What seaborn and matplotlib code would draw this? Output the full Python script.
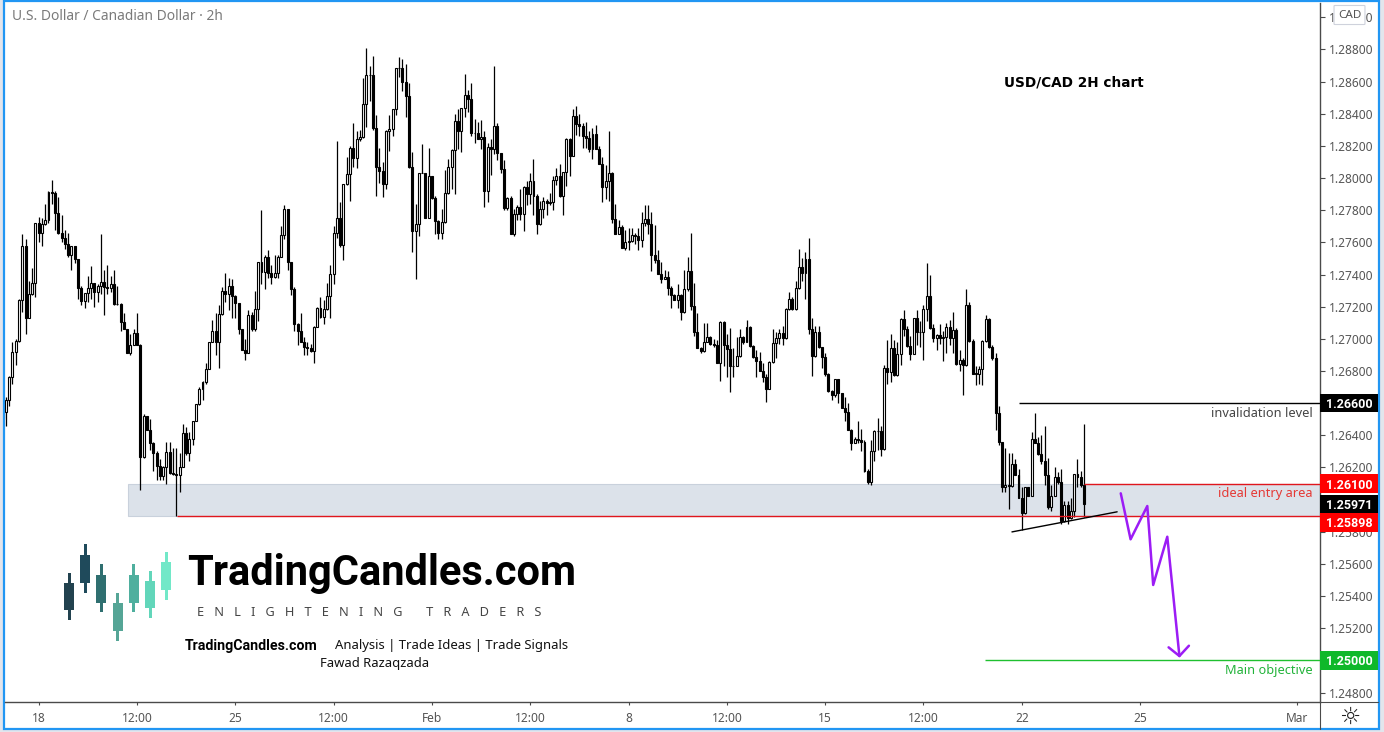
import numpy as np
import pandas as pd
import matplotlib
matplotlib.use("Agg")
import matplotlib.pyplot as plt
from matplotlib.patches import Rectangle, FancyBboxPatch
from matplotlib.lines import Line2D
import seaborn as sns

first_open = 1.26505

closes = [
    1.26542, 1.26619, 1.26760, 1.26916, 1.26988, 1.27241, 1.27575, 1.27131, 1.27276, 1.27345,
    1.27718, 1.27656, 1.27712, 1.27739, 1.27913, 1.27909, 1.27780, 1.27656, 1.27625, 1.27588,
    1.27523, 1.27575, 1.27494, 1.27314, 1.27237, 1.27283, 1.27314, 1.27345, 1.27289, 1.27330,
    1.27355, 1.27320, 1.27314, 1.27339, 1.27214, 1.27214, 1.27106, 1.27061, 1.26913, 1.26961,
    1.27034, 1.26961, 1.26262, 1.26519, 1.26432, 1.26353, 1.26287, 1.26210, 1.26146, 1.26204,
    1.26297, 1.26163, 1.26159, 1.26156, 1.26204, 1.26416, 1.26287, 1.26374, 1.26490, 1.26592,
    1.26685, 1.26729, 1.26814, 1.26978, 1.27046, 1.26978, 1.27152, 1.27295, 1.27281,
    1.27330, 1.27268, 1.27221, 1.27059, 1.26930, 1.26914, 1.27146, 1.27059, 1.27183, 1.27476,
    1.27413, 1.27511, 1.27407, 1.27382, 1.27411, 1.27507, 1.27644, 1.27805, 1.27480, 1.27308,
    1.27090, 1.27050, 1.26982, 1.26951, 1.26941, 1.26926, 1.27075, 1.27189, 1.27133, 1.27183,
    1.27268, 1.27401, 1.27656, 1.27749, 1.27581, 1.27961, 1.28023, 1.28185, 1.28123, 1.28241,
    1.28253, 1.28459, 1.28639, 1.28641, 1.28314, 1.28067, 1.28042, 1.27961, 1.28295, 1.28303,
    1.28428, 1.28683, 1.28687, 1.28596, 1.28511, 1.28067, 1.27673, 1.27712, 1.28029, 1.28034,
    1.27749, 1.28013, 1.27878, 1.27735, 1.27656, 1.27725, 1.27909, 1.28067,
    1.28175, 1.28353, 1.28291, 1.28434, 1.28515, 1.28494, 1.28283, 1.28279, 1.28246, 1.28254,
    1.27922, 1.28192, 1.28183, 1.28324, 1.28154, 1.28055, 1.27812, 1.27874, 1.27652, 1.27775,
    1.27818, 1.27775, 1.27943, 1.27903, 1.27980, 1.27889, 1.27717, 1.27806, 1.27856, 1.27847,
    1.27849, 1.27986, 1.28011, 1.27889, 1.28036, 1.28241, 1.28140, 1.28384, 1.28339, 1.28326,
    1.28264, 1.28252, 1.28183, 1.28273, 1.28183, 1.28090, 1.27947, 1.27980, 1.28030, 1.27748,
    1.27654, 1.27694, 1.27567, 1.27601, 1.27607, 1.27644, 1.27638, 1.27617, 1.27719, 1.27744,
    1.27715, 1.27524, 1.27493, 1.27406, 1.27374, 1.27387, 1.27318,
    1.27274, 1.27241, 1.27274, 1.27169, 1.27308, 1.27424, 1.27206, 1.27044, 1.26945, 1.26926,
    1.26982, 1.27013, 1.26967, 1.26959, 1.26851, 1.27102, 1.26961, 1.26938, 1.26833, 1.26831,
    1.26893, 1.27009, 1.26978, 1.27071, 1.26955, 1.26889, 1.26864, 1.26802, 1.26760, 1.26690,
    1.26853, 1.26972, 1.27003, 1.27038, 1.27003, 1.27185, 1.27250, 1.27185, 1.27318, 1.27449,
    1.27407, 1.27498, 1.27059, 1.26895, 1.27040, 1.26947, 1.26889, 1.26781, 1.26677, 1.26650,
    1.26748, 1.26661, 1.26571, 1.26542, 1.26434, 1.26354, 1.26376, 1.26370, 1.26360, 1.26179,
    1.26109, 1.26304, 1.26426, 1.26428, 1.26312, 1.26816,
    1.26796, 1.26945, 1.26775, 1.26904, 1.27124, 1.27064, 1.26958, 1.26908, 1.27128, 1.27041,
    1.27045, 1.27184, 1.27267, 1.27068, 1.27003, 1.27024, 1.27003, 1.27014, 1.27072, 1.27008,
    1.27055, 1.26846, 1.26869, 1.26837, 1.27211, 1.26989, 1.26784, 1.26784, 1.26811, 1.26985,
    1.27122, 1.26949, 1.26879, 1.26541, 1.26356, 1.26076, 1.26089, 1.26085, 1.26219, 1.26153,
    1.26008, 1.25915, 1.26076, 1.26022, 1.26379, 1.26354, 1.26284, 1.26242, 1.26153, 1.25952,
    1.26022, 1.26139, 1.26112, 1.25867, 1.25964, 1.25883, 1.25931, 1.26159, 1.26143, 1.26091,
    1.25971,
]

highs = [
    1.2654, 1.2664, 1.2677, 1.2698, 1.2700, 1.2725, 1.2765, 1.2762, 1.2736, 1.2744,
    1.2772, 1.2776, 1.2775, 1.2784, 1.2792, 1.2799, 1.2792, 1.2788, 1.2777, 1.2768,
    1.2766, 1.2758, 1.2758, 1.2749, 1.2733, 1.2728, 1.2739, 1.2745, 1.2735, 1.2734,
    1.2765, 1.2743, 1.2746, 1.2739, 1.2743, 1.2733, 1.2722, 1.2716, 1.2706, 1.2703,
    1.2706, 1.2716, 1.2697, 1.2653, 1.2652, 1.2650, 1.2636, 1.2630, 1.2625, 1.2621,
    1.2636, 1.2636, 1.2632, 1.2632, 1.2629, 1.2647, 1.2645, 1.2642, 1.2649, 1.2659,
    1.2670, 1.2674, 1.2685, 1.2698, 1.2712, 1.2716, 1.2721, 1.2732, 1.2741,
    1.2738, 1.2737, 1.2727, 1.2722, 1.2706, 1.2700, 1.2718, 1.2717, 1.2730, 1.2748,
    1.2780, 1.2752, 1.2755, 1.2746, 1.2752, 1.2752, 1.2770, 1.2783, 1.2781, 1.2748,
    1.2732, 1.2710, 1.2716, 1.2701, 1.2698, 1.2697, 1.2708, 1.2720, 1.2726, 1.2724,
    1.2735, 1.2746, 1.2770, 1.2823, 1.2785, 1.2796, 1.2813, 1.2820, 1.2834, 1.2829,
    1.2830, 1.2862, 1.2881, 1.2870, 1.2876, 1.2839, 1.2819, 1.2810, 1.2830, 1.2839,
    1.2843, 1.2868, 1.2875, 1.2874, 1.2871, 1.2859, 1.2816, 1.2784, 1.2803, 1.2821,
    1.2803, 1.2819, 1.2801, 1.2789, 1.2774, 1.2781, 1.2805, 1.2812,
    1.2818, 1.2840, 1.2843, 1.2843, 1.2865, 1.2855, 1.2859, 1.2837, 1.2835, 1.2836,
    1.2829, 1.2822, 1.2824, 1.2870, 1.2834, 1.2815, 1.2811, 1.2788, 1.2789, 1.2781,
    1.2783, 1.2793, 1.2795, 1.2798, 1.2803, 1.2812, 1.2790, 1.2786, 1.2788, 1.2787,
    1.2791, 1.2801, 1.2806, 1.2809, 1.2804, 1.2825, 1.2825, 1.2843, 1.2845, 1.2840,
    1.2834, 1.2835, 1.2829, 1.2831, 1.2833, 1.2820, 1.2813, 1.2808, 1.2829, 1.2804,
    1.2784, 1.2774, 1.2771, 1.2768, 1.2769, 1.2769, 1.2766, 1.2769, 1.2779, 1.2783,
    1.2783, 1.2779, 1.2771, 1.2755, 1.2748, 1.2743, 1.2742,
    1.2733, 1.2728, 1.2734, 1.2728, 1.2743, 1.2751, 1.2766, 1.2735, 1.2716, 1.2695,
    1.2710, 1.2710, 1.2702, 1.2700, 1.2699, 1.2711, 1.2711, 1.2703, 1.2707, 1.2694,
    1.2701, 1.2706, 1.2702, 1.2712, 1.2708, 1.2696, 1.2693, 1.2692, 1.2685, 1.2678,
    1.2686, 1.2706, 1.2704, 1.2706, 1.2708, 1.2719, 1.2729, 1.2726, 1.2736, 1.2756,
    1.2750, 1.2754, 1.2763, 1.2713, 1.2708, 1.2708, 1.2695, 1.2691, 1.2679, 1.2668,
    1.2675, 1.2675, 1.2666, 1.2664, 1.2660, 1.2644, 1.2639, 1.2649, 1.2644, 1.2637,
    1.2619, 1.2637, 1.2643, 1.2651, 1.2646, 1.2684,
    1.2699, 1.2703, 1.2699, 1.2698, 1.2713, 1.2718, 1.2708, 1.2702, 1.2713, 1.2718,
    1.2711, 1.2721, 1.2747, 1.2740, 1.2709, 1.2703, 1.2709, 1.2705, 1.2710, 1.2712,
    1.2717, 1.2707, 1.2693, 1.2688, 1.2731, 1.2723, 1.2700, 1.2683, 1.2683, 1.2699,
    1.2715, 1.2713, 1.2696, 1.2691, 1.2658, 1.2636, 1.2632, 1.2629, 1.2629, 1.2625,
    1.2619, 1.2608, 1.2608, 1.2608, 1.2642, 1.2654, 1.2639, 1.2640, 1.2646, 1.2626,
    1.2609, 1.2620, 1.2617, 1.2619, 1.2599, 1.2599, 1.2601, 1.2616, 1.2625, 1.2618,
    1.2647,
]

lows = [
    1.2649, 1.2646, 1.2658, 1.2672, 1.2684, 1.2698, 1.2717, 1.2703, 1.2713, 1.2727,
    1.2726, 1.2760, 1.2758, 1.2771, 1.2772, 1.2784, 1.2768, 1.2765, 1.2760, 1.2756,
    1.2751, 1.2743, 1.2747, 1.2725, 1.2721, 1.2719, 1.2723, 1.2725, 1.2720, 1.2723,
    1.2728, 1.2715, 1.2728, 1.2729, 1.2721, 1.2721, 1.2705, 1.2706, 1.2691, 1.2690,
    1.2696, 1.2696, 1.2606, 1.2626, 1.2643, 1.2631, 1.2618, 1.2612, 1.2612, 1.2612,
    1.2610, 1.2616, 1.2615, 1.2590, 1.2605, 1.2620, 1.2628, 1.2624, 1.2634, 1.2649,
    1.2659, 1.2662, 1.2672, 1.2681, 1.2698, 1.2690, 1.2682, 1.2715, 1.2723,
    1.2718, 1.2713, 1.2713, 1.2703, 1.2693, 1.2687, 1.2691, 1.2705, 1.2705, 1.2711,
    1.2734, 1.2731, 1.2738, 1.2734, 1.2738, 1.2738, 1.2751, 1.2762, 1.2743, 1.2727,
    1.2705, 1.2696, 1.2698, 1.2690, 1.2690, 1.2692, 1.2685, 1.2708, 1.2713, 1.2709,
    1.2718, 1.2713, 1.2734, 1.2763, 1.2757, 1.2749, 1.2796, 1.2786, 1.2807, 1.2806,
    1.2823, 1.2825, 1.2832, 1.2848, 1.2830, 1.2789, 1.2797, 1.2788, 1.2793, 1.2817,
    1.2826, 1.2839, 1.2863, 1.2854, 1.2838, 1.2806, 1.2754, 1.2737, 1.2764, 1.2803,
    1.2775, 1.2775, 1.2787, 1.2765, 1.2762, 1.2762, 1.2772, 1.2790,
    1.2793, 1.2790, 1.2818, 1.2816, 1.2838, 1.2841, 1.2826, 1.2822, 1.2825, 1.2818,
    1.2782, 1.2785, 1.2802, 1.2815, 1.2811, 1.2803, 1.2780, 1.2780, 1.2765, 1.2764,
    1.2774, 1.2774, 1.2767, 1.2783, 1.2784, 1.2777, 1.2765, 1.2771, 1.2775, 1.2777,
    1.2783, 1.2780, 1.2796, 1.2788, 1.2777, 1.2795, 1.2801, 1.2814, 1.2827, 1.2826,
    1.2819, 1.2819, 1.2816, 1.2812, 1.2818, 1.2809, 1.2785, 1.2787, 1.2786, 1.2772,
    1.2765, 1.2765, 1.2757, 1.2755, 1.2755, 1.2760, 1.2759, 1.2755, 1.2757, 1.2770,
    1.2765, 1.2742, 1.2747, 1.2741, 1.2735, 1.2737, 1.2727,
    1.2719, 1.2724, 1.2719, 1.2712, 1.2716, 1.2730, 1.2718, 1.2702, 1.2694, 1.2691,
    1.2692, 1.2698, 1.2696, 1.2695, 1.2685, 1.2674, 1.2683, 1.2676, 1.2667, 1.2676,
    1.2683, 1.2689, 1.2697, 1.2698, 1.2695, 1.2688, 1.2676, 1.2680, 1.2673, 1.2661,
    1.2669, 1.2685, 1.2688, 1.2697, 1.2696, 1.2700, 1.2718, 1.2718, 1.2718, 1.2731,
    1.2736, 1.2725, 1.2703, 1.2677, 1.2689, 1.2694, 1.2682, 1.2677, 1.2667, 1.2662,
    1.2664, 1.2660, 1.2657, 1.2649, 1.2643, 1.2631, 1.2635, 1.2635, 1.2630, 1.2617,
    1.2610, 1.2609, 1.2624, 1.2631, 1.2627, 1.2631,
    1.2672, 1.2673, 1.2677, 1.2677, 1.2684, 1.2702, 1.2695, 1.2687, 1.2691, 1.2696,
    1.2695, 1.2687, 1.2711, 1.2706, 1.2698, 1.2693, 1.2697, 1.2686, 1.2691, 1.2696,
    1.2691, 1.2684, 1.2680, 1.2665, 1.2683, 1.2698, 1.2678, 1.2671, 1.2672, 1.2671,
    1.2698, 1.2694, 1.2687, 1.2643, 1.2634, 1.2605, 1.2605, 1.2594, 1.2608, 1.2615,
    1.2601, 1.2581, 1.2591, 1.2602, 1.2602, 1.2635, 1.2628, 1.2622, 1.2609, 1.2594,
    1.2593, 1.2602, 1.2610, 1.2585, 1.2586, 1.2585, 1.2588, 1.2589, 1.2608, 1.2608,
    1.2589,
]

price_ticks = [1.248 + 0.002 * i for i in range(22)]
date_ticks = [11, 41, 71, 101, 131, 161, 191, 221, 251, 281, 311, 347, 395]
date_labels = ["18", "12:00", "25", "12:00", "Feb", "12:00", "8", "12:00", "15", "12:00", "22", "25", "Mar"]

zone_top, zone_bottom = 1.26100, 1.25898
invalidation = 1.26600
objective = 1.25000
last_price = 1.25971

path_bars = [341.2, 344.2, 349.3, 351.1, 355.4, 359.1]
path_prices = [1.26039, 1.25753, 1.25960, 1.25469, 1.25769, 1.25027]
head_bars = [355.8, 359.1, 362.0]
head_prices = [1.25081, 1.25027, 1.25091]
trend_bars = [308.0, 340.1]
trend_prices = [1.25799, 1.25924]

logo_colors = ["#22424f", "#1f4a5b", "#2f6f70", "#55a596", "#4faf9e", "#62d6ba", "#72e8c8"]
logo_body_top = [583, 555, 575, 603, 575, 581, 562]
logo_body_bot = [610, 583, 603, 631, 603, 608, 590]
logo_wick_top = [573, 544, 564, 593, 564, 571, 552]
logo_wick_bot = [620, 593, 612, 641, 612, 618, 600]

sns.set_theme(style="white")
plt.rcParams["font.family"] = ["Noto Sans", "DejaVu Sans"]

W, H = 1384, 732
fig = plt.figure(figsize=(W / 100, H / 100), dpi=100, facecolor="#e3e5ec")


def fx(x):
    return x / W


def fy(y):
    return 1 - y / H


# blue frame around the whole widget
fig.add_artist(Rectangle((fx(4), fy(729)), (1378.5 - 4) / W, (729 - 1) / H, transform=fig.transFigure,
                         facecolor="white", edgecolor="#2196f3", linewidth=1.6, zorder=-1))

ax = fig.add_axes([fx(5), fy(702), 1315 / W, 699 / H])
ax.patch.set_alpha(0)

df = pd.DataFrame({"close": closes, "high": highs, "low": lows})
df["bar"] = np.arange(len(df))
df["open"] = df["close"].shift(1).fillna(first_open)
df["high"] = df[["high", "open", "close"]].max(axis=1)
df["low"] = df[["low", "open", "close"]].min(axis=1)
df["bottom"] = df[["open", "close"]].min(axis=1)
df["height"] = (df["close"] - df["open"]).abs().clip(lower=0.00001)

ax.add_patch(Rectangle((38.3, zone_bottom), 402 - 38.3, zone_top - zone_bottom, facecolor="#dce2ea",
                       edgecolor="#c9d1dc", linewidth=0.8, zorder=1))
ax.vlines(df["bar"], df["low"], df["high"], color="black", linewidth=0.9, zorder=2)

up = df[df["close"] >= df["open"]]
down = df[df["close"] < df["open"]]
sns.barplot(x=up["bar"].values, y=up["height"].values, bottom=up["bottom"].values, native_scale=True,
            width=0.6, color="white", saturation=1, edgecolor="black", linewidth=0.8, zorder=3, ax=ax, errorbar=None)
sns.barplot(x=down["bar"].values, y=down["height"].values, bottom=down["bottom"].values, native_scale=True,
            width=0.6, color="black", saturation=1, edgecolor="black", linewidth=0.8, zorder=3, ax=ax, errorbar=None)

ax.set_xlim(0.73, 402.0)
ax.set_ylim(1.24741, 1.29089)

# drawn levels
ax.hlines(zone_bottom, 53.2, 402, color="#e0161d", linewidth=1.0, zorder=5)
ax.hlines(zone_top, 330, 402, color="#e0161d", linewidth=1.0, zorder=5)
ax.hlines(invalidation, 310.2, 402, color="black", linewidth=1.0, zorder=5)
ax.hlines(objective, 299.8, 402, color="#1fc02f", linewidth=1.0, zorder=5)
sns.lineplot(x=trend_bars, y=trend_prices, color="black", linewidth=1.0, sort=False, estimator=None, ax=ax, zorder=5)
sns.lineplot(x=path_bars, y=path_prices, color="#9c1cf5", linewidth=1.8, sort=False, estimator=None, ax=ax, zorder=6)
sns.lineplot(x=head_bars, y=head_prices, color="#9c1cf5", linewidth=1.8, sort=False, estimator=None, ax=ax, zorder=6)

ax.text(0.9943, invalidation - 0.00062, "invalidation level", transform=ax.get_yaxis_transform(), ha="right", va="center",
        fontsize=9.2, color="#444444", zorder=7)
ax.text(0.9943, zone_top - 0.00062, "ideal entry area", transform=ax.get_yaxis_transform(), ha="right", va="center",
        fontsize=9.2, color="#e53935", zorder=7)
ax.text(0.9943, objective - 0.00062, "Main objective", transform=ax.get_yaxis_transform(), ha="right", va="center",
        fontsize=9.2, color="#22b33a", zorder=7)

sns.despine(ax=ax, left=True, top=True, right=False, bottom=False)
for side in ["right", "bottom"]:
    ax.spines[side].set_color("#4a4a4a")
    ax.spines[side].set_linewidth(1.0)
ax.yaxis.tick_right()
ax.set_yticks(price_ticks)
ax.set_yticklabels([f"{v:.5f}" for v in price_ticks], fontsize=8.6, color="#555555")
ax.set_xticks(date_ticks)
ax.set_xticklabels(date_labels, fontsize=8.6, color="#555555")
ax.tick_params(axis="y", which="major", length=3.5, width=0.8, color="#4a4a4a", pad=3, right=True, left=False)
ax.tick_params(axis="x", which="major", length=2.5, width=0.8, color="#4a4a4a", pad=4.5, bottom=True)
ax.set_xlabel("")
ax.set_ylabel("")

fig.add_artist(Line2D([fx(1320), fx(1320)], [fy(702), fy(729)], color="#4a4a4a", linewidth=0.8))
fig.add_artist(Line2D([fx(1320), fx(1378)], [fy(702), fy(702)], color="#4a4a4a", linewidth=0.8))
fig.text(fx(1350), fy(716.5), "\u263c", fontsize=17, ha="center", va="center", color="#222222", family="DejaVu Sans")

# price tags on the right scale
tags = [(1.26600, "1.26600", "black"),
        (1.26100, "1.26100", "#ff0000"),
        (1.25971, "1.25971", "black"),
        (1.25858, "1.25898", "#ff0000"),
        (1.25000, "1.25000", "#0fb82a")]
tag_trans = ax.get_yaxis_transform()
for centre, label, colour in tags:
    fig.add_artist(Rectangle((1.0, centre - 0.00057), 57.5 / 1315, 0.00114, transform=tag_trans,
                             facecolor=colour, edgecolor="none", zorder=10))
    fig.text(1 + 29 / 1315, centre, label, transform=tag_trans, fontsize=9, fontweight="bold", color="white",
             ha="center", va="center_baseline", zorder=11, family="Roboto")

# currency badge
fig.add_artist(FancyBboxPatch((fx(1335), fy(24)), 29 / W, 18 / H, boxstyle="round,pad=0.0007", transform=fig.transFigure,
                              facecolor="white", edgecolor="#cfd2dc", linewidth=0.8, zorder=10))
fig.text(fx(1349.5), fy(15), "CAD", fontsize=8.4, ha="center", va="center", color="#555555", zorder=11)

fig.text(fx(12), fy(16), "U.S. Dollar / Canadian Dollar \u00b7 2h", fontsize=9.9, color="#7a7a7a", va="center", ha="left")
fig.text(fx(1074), fy(83), "USD/CAD 2H chart", fontsize=9.8, fontweight="bold", color="black", ha="center", va="center",
         family="DejaVu Sans")

# logo block
for i, colour in enumerate(logo_colors):
    cx = 69 + 16.2 * i
    fig.add_artist(Rectangle((fx(cx - 1.5), fy(logo_wick_bot[i])), 3 / W, (logo_wick_bot[i] - logo_wick_top[i]) / H,
                             transform=fig.transFigure, facecolor=colour, edgecolor="none", zorder=4))
    fig.add_artist(Rectangle((fx(cx - 5), fy(logo_body_bot[i])), 10 / W, (logo_body_bot[i] - logo_body_top[i]) / H,
                             transform=fig.transFigure, facecolor=colour, edgecolor="none", zorder=4))

fig.text(fx(187), fy(585), "TradingCandles.com", fontsize=30, fontweight="bold", color="black", va="baseline", ha="left",
         family="Roboto")
fig.text(fx(197), fy(612), "   ".join("ENLIGHTENING") + "       " + "   ".join("TRADERS"), fontsize=9.2, color="#444444",
         va="center", ha="left")
fig.text(fx(185), fy(646), "TradingCandles.com", fontsize=10.2, fontweight="bold", color="black", va="center", ha="left",
         family="Roboto")
fig.text(fx(568), fy(646), "Analysis | Trade Ideas | Trade Signals", fontsize=9.45, color="#111111", va="center", ha="right")
fig.text(fx(375), fy(663), "Fawad Razaqzada", fontsize=9.4, color="#111111", va="center", ha="center")

fig.savefig("out.png", dpi=100, facecolor=fig.get_facecolor())
